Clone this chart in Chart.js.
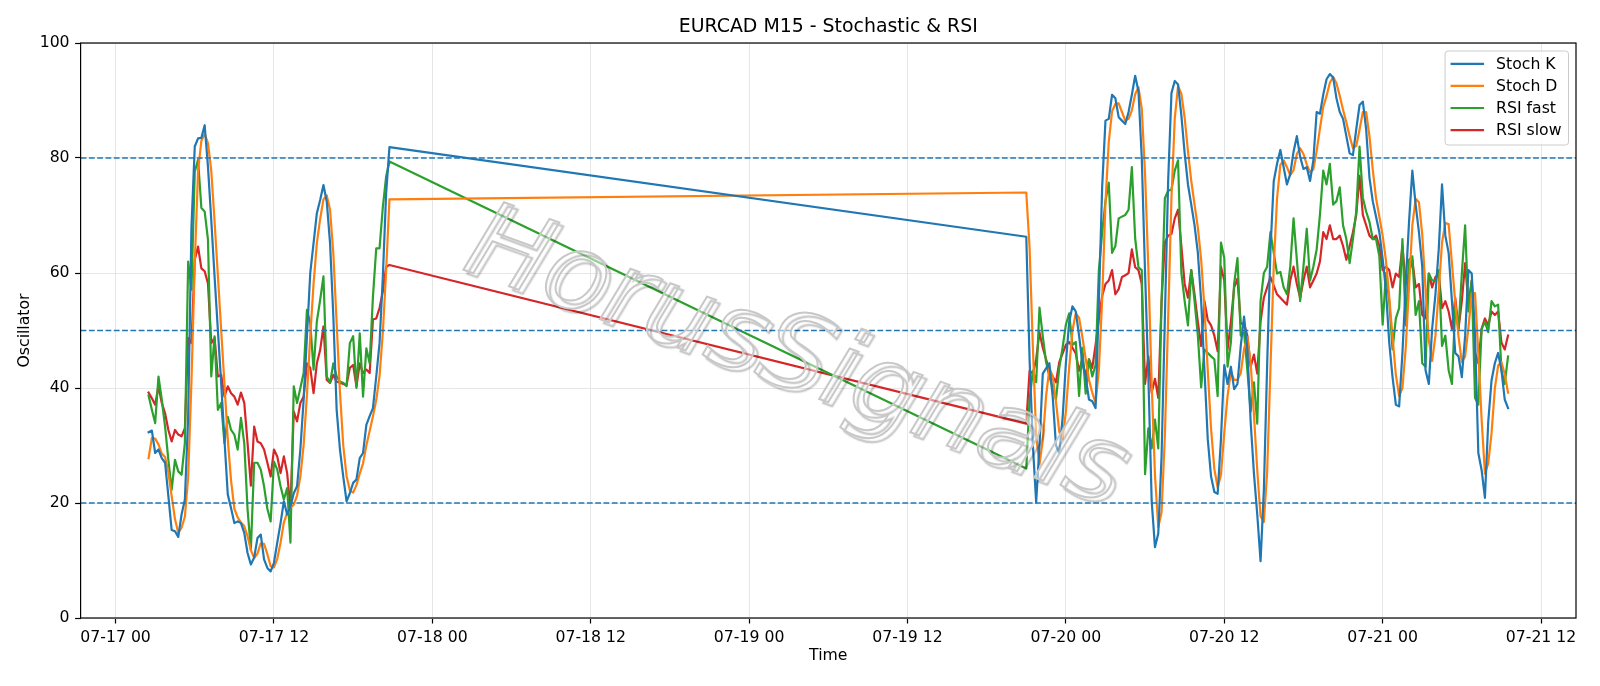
<!DOCTYPE html>
<html>
<head>
<meta charset="utf-8">
<title>EURCAD M15 - Stochastic & RSI</title>
<script src="https://cdn.jsdelivr.net/npm/chart.js"></script>
<style>
  html, body { margin: 0; padding: 0; background: #ffffff; }
  canvas { display: block; }
</style>
</head>
<body>
<canvas id="chart" width="1600" height="686"></canvas>
<script>
// ---------------- DATA ----------------
// Time is expressed in hours since 07-17 00:00; bars are 15 minutes apart.
const session1StartHour = 2.5;   // 07-17 02:30
const session2StartHour = 69;    // 07-19 21:00
const barHours = 0.25;           // M15

const seriesNames  = ['Stoch K', 'Stoch D', 'RSI fast', 'RSI slow'];
const seriesColors = ['#1f77b4', '#ff7f0e', '#2ca02c', '#d62728'];

// Session 1 (07-17 02:30 .. 07-17 20:45)
const stochK1 = [32.3,32.6,28.7,29.3,27.8,27.0,21.2,15.3,15.1,14.1,
  18.0,20.6,35.0,68.0,82.0,83.4,83.5,85.7,78.5,69.2,
  59.4,50.1,40.9,31.0,21.5,19.1,16.5,16.8,16.5,14.8,
  11.3,9.3,10.5,13.9,14.5,10.2,8.7,8.1,9.6,13.1,
  16.5,20.3,18.0,19.4,21.7,22.9,29.3,38.0,49.0,60.0,
  65.2,70.4,72.7,75.3,72.4,65.2,52.4,36.2,29.3,24.6,
  20.3,21.7,23.5,24.1,27.8,28.7,33.6,35.1,36.5,42.0,
  47.8,59.4,73.9,81.9];
const stochD1 = [27.8,31.3,31.2,30.2,28.6,28.0,25.3,21.2,17.2,14.8,
  15.7,17.6,24.5,41.2,61.7,77.8,83.0,84.2,82.6,77.8,
  69.0,59.6,50.1,40.7,31.1,23.9,19.0,17.5,16.6,16.0,
  14.2,11.8,10.4,11.2,13.0,12.9,11.1,9.0,8.8,10.3,
  13.1,16.6,18.3,19.2,19.7,21.3,24.6,30.1,38.8,49.0,
  58.1,65.2,69.4,72.8,73.5,71.0,63.3,51.3,39.3,30.0,
  24.7,22.2,21.8,23.1,25.1,26.9,30.0,32.5,35.1,37.9,
  42.1,49.7,60.4,72.8];
const rsiFast1 = [38.7,36.2,33.9,42.0,38.0,33.3,27.5,22.3,27.5,25.5,
  24.9,30.4,62.0,57.1,77.6,79.7,71.3,70.7,65.8,42.0,
  49.0,36.2,37.4,30.4,35.0,32.7,31.9,29.3,34.8,30.4,
  18.9,11.9,27.0,27.0,25.8,22.9,19.0,16.8,27.2,25.8,
  22.9,20.6,22.6,13.1,40.3,37.4,40.0,42.6,53.6,51.3,
  43.2,51.6,55.3,59.4,42.0,40.9,44.3,42.0,41.1,40.9,
  40.3,47.8,49.0,40.0,49.5,38.5,46.9,44.3,55.9,64.3,
  64.3,71.5,76.8,79.4];
const rsiSlow1 = [39.2,38.2,37.1,40.3,37.4,35.6,32.7,30.7,32.7,31.9,
  31.6,33.0,48.7,47.8,62.3,64.6,60.8,60.3,58.2,47.8,
  48.7,42.0,42.3,38.5,40.3,39.1,38.5,37.1,39.2,37.4,
  30.4,23.0,33.3,30.7,30.4,29.3,27.0,24.6,29.3,28.1,
  25.2,28.1,25.2,19.0,35.9,34.2,37.4,38.5,44.3,43.5,
  39.1,44.3,46.6,50.7,41.4,40.9,42.3,41.1,40.9,40.7,
  40.5,43.5,44.0,40.3,44.3,42.6,43.2,42.6,51.9,52.1,
  53.9,56.8,61.1,61.4];

// Session 2 (07-19 21:00 .. 07-21 09:30)
const stochK2 = [66.3,45.0,30.0,20.1,30.0,42.5,43.4,44.3,38.5,30.0,
  28.7,34.7,44.3,51.5,54.2,53.3,49.1,44.3,41.9,38.0,
  37.7,36.5,55.0,75.0,86.5,86.8,91.0,90.4,87.1,86.5,
  85.9,88.0,91.0,94.3,91.6,80.0,60.0,42.0,20.4,12.3,
  14.7,28.1,52.1,76.0,91.3,93.4,92.8,87.4,80.8,75.4,
  71.9,68.3,63.5,55.1,43.1,31.1,24.6,21.9,21.6,31.1,
  44.0,40.7,43.7,39.8,40.7,47.3,52.4,46.7,34.1,25.1,
  18.0,9.9,22.2,44.0,64.0,76.0,79.0,81.4,78.4,75.4,
  77.2,81.1,83.8,80.2,78.1,78.4,76.0,79.6,88.0,87.7,
  91.0,93.7,94.6,94.0,90.4,88.0,86.8,83.8,80.8,80.5,
  85.0,89.2,89.8,85.0,76.6,72.5,69.8,67.1,62.5,57.0,
  47.9,41.9,37.1,36.8,46.1,58.1,68.9,77.8,71.9,67.1,
  61.1,43.1,40.7,50.3,56.3,64.1,75.4,66.5,63.5,55.1,
  46.1,45.5,41.9,49.1,60.5,59.9,49.1,28.7,25.7,20.9,
  34.1,41.3,44.3,46.1,43.1,38.0,36.5];
const stochD2 = [74.0,64.4,47.1,31.7,26.7,30.9,38.6,43.4,42.1,37.6,
  32.4,31.1,35.9,43.5,50.0,53.0,52.2,48.9,45.1,41.4,
  39.2,37.4,43.1,55.5,72.2,82.8,88.1,89.4,89.5,88.0,
  86.5,86.8,88.3,91.1,92.3,88.6,77.2,60.7,40.8,24.9,
  15.8,18.4,31.6,52.1,73.1,86.9,92.5,91.2,87.0,81.2,
  76.0,71.9,67.9,62.3,53.9,43.1,32.9,25.9,22.7,24.9,
  32.2,38.6,42.8,41.4,41.4,42.6,46.8,48.8,44.4,35.3,
  25.7,17.7,16.7,25.4,43.4,61.3,73.0,78.8,79.6,78.4,
  77.0,77.9,80.7,81.7,80.7,78.9,77.5,78.0,81.2,85.1,
  88.9,90.8,93.1,94.1,93.0,90.8,88.4,86.2,83.8,81.7,
  82.1,84.9,88.0,88.0,83.8,78.0,73.0,69.8,66.5,62.2,
  55.8,48.9,42.3,38.6,40.0,47.0,57.7,68.3,72.9,72.3,
  66.7,57.1,48.3,44.7,49.1,56.9,65.3,68.7,68.5,61.7,
  54.9,48.9,44.5,45.5,50.5,56.5,56.5,45.9,34.5,25.1,
  26.9,32.1,39.9,43.9,44.5,42.4,39.2];
const rsiFast2 = [26.0,38.0,43.0,41.0,54.0,49.0,44.5,42.0,40.0,38.0,
  43.5,47.0,51.0,53.0,47.5,48.0,38.6,47.0,39.0,45.0,
  42.0,44.0,60.5,67.0,72.5,75.7,63.5,64.7,69.5,69.8,
  70.1,71.0,78.4,66.0,61.0,60.5,25.0,33.0,29.5,34.5,
  29.5,55.0,73.0,74.3,74.5,77.8,79.6,60.0,55.1,50.9,
  60.5,55.1,49.1,40.1,46.7,46.1,45.5,45.0,38.6,65.3,
  62.6,43.7,47.9,58.1,62.6,49.1,49.7,43.1,35.9,41.0,
  33.8,55.1,60.0,61.1,67.1,63.5,59.9,60.2,57.5,56.3,
  61.1,69.5,62.3,55.1,61.1,67.7,58.7,61.1,64.1,70.1,
  77.8,75.4,79.0,71.9,72.5,74.9,68.3,65.9,61.7,65.9,
  70.7,82.0,73.1,70.7,68.9,65.9,65.9,62.9,51.0,60.0,
  55.1,46.7,52.1,53.9,65.9,50.9,62.3,62.9,52.7,55.1,
  44.3,43.7,59.9,58.7,58.7,60.5,47.3,49.1,43.1,40.7,
  53.9,50.3,59.9,68.3,53.3,58.7,38.3,37.1,50.3,51.5,
  49.7,55.1,54.2,54.5,43.1,40.7,45.5];
const rsiSlow2 = [33.8,43.0,42.5,45.0,49.7,47.0,45.0,43.0,42.0,41.0,
  44.5,46.0,47.5,48.0,47.0,46.0,43.0,45.0,42.0,45.0,
  43.5,47.5,52.0,56.0,58.1,58.7,60.5,56.3,57.2,59.3,
  59.6,60.0,64.1,61.0,60.5,58.1,40.7,45.5,39.2,41.6,
  38.3,55.1,65.3,66.5,66.8,69.5,71.0,64.7,58.1,55.7,
  60.5,56.3,51.5,47.3,55.1,51.8,50.9,49.1,46.4,61.1,
  58.7,46.7,51.5,57.5,59.0,51.2,51.2,49.1,43.7,45.8,
  42.5,51.5,55.7,57.5,59.3,57.8,56.3,55.7,55.1,54.5,
  58.7,61.1,58.1,55.7,58.7,61.1,57.5,58.7,59.9,62.0,
  67.1,65.9,68.3,65.9,65.9,66.5,64.7,62.3,64.7,67.1,
  70.1,76.9,70.1,68.3,66.5,65.9,66.5,64.7,60.5,61.1,
  60.5,57.5,59.9,59.3,64.7,58.1,59.9,62.3,57.5,58.1,
  52.7,52.1,59.9,57.5,59.3,59.9,53.9,55.1,53.3,50.3,
  55.7,50.3,55.1,61.7,54.5,58.7,46.1,44.3,50.3,52.1,
  50.9,53.3,52.7,53.3,47.9,46.7,49.1];

const tickHours  = [0, 12, 24, 36, 48, 60, 72, 84, 96, 108];
const tickLabels = ['07-17 00','07-17 12','07-18 00','07-18 12','07-19 00',
                    '07-19 12','07-20 00','07-20 12','07-21 00','07-21 12'];
const yTicks = [0, 20, 40, 60, 80, 100];
const refLevels = [80, 50, 20];

const chartTitle = 'EURCAD M15 - Stochastic & RSI';
const xTitle = 'Time';
const yTitle = 'Oscillator';
const watermarkText = 'HorusSignals';

// ---------------- BUILD ----------------
function toPoints(a1, a2) {
  const pts = [];
  a1.forEach((v, i) => pts.push({ x: session1StartHour + i * barHours, y: v }));
  a2.forEach((v, i) => pts.push({ x: session2StartHour + i * barHours, y: v }));
  return pts;
}
const seriesData = [
  toPoints(stochK1, stochK2),
  toPoints(stochD1, stochD2),
  toPoints(rsiFast1, rsiFast2),
  toPoints(rsiSlow1, rsiSlow2)
];

const firstX = session1StartHour;
const lastX = session2StartHour + (stochK2.length - 1) * barHours;
const spanX = lastX - firstX;
const xMin = firstX - 0.05 * spanX;
const xMax = lastX + 0.05 * spanX;

const FONT = "'DejaVu Sans', 'Liberation Sans', sans-serif";
const TICK_SIZE = 15.7;
const TITLE_SIZE = 18.9;

Chart.defaults.color = '#000000';
Chart.defaults.font.family = FONT;

const decor = {
  id: 'decor',
  afterDatasetsDraw(chart) {
    const { ctx, chartArea: a, scales: { y } } = chart;
    ctx.save();
    // horizontal dashed reference levels
    ctx.strokeStyle = '#1f77b4';
    ctx.lineWidth = 1.5;
    ctx.setLineDash([5.8, 2.5]);
    refLevels.forEach(v => {
      const py = y.getPixelForValue(v);
      ctx.beginPath();
      ctx.moveTo(a.left, py);
      ctx.lineTo(a.right, py);
      ctx.stroke();
    });
    ctx.setLineDash([]);

    // watermark
    ctx.save();
    ctx.translate(chart.width / 2 - 5, chart.height / 2 + 18);
    ctx.rotate(20 * Math.PI / 180);
    ctx.font = "italic 106px " + FONT;
    ctx.textAlign = 'center';
    ctx.textBaseline = 'middle';
    ctx.fillStyle = 'rgba(255,255,255,0.5)';
    ctx.fillText(watermarkText, 0, 0);
    ctx.shadowColor = 'rgba(0,0,0,0.26)';
    ctx.shadowOffsetX = 4;
    ctx.shadowOffsetY = 4;
    ctx.shadowBlur = 1.5;
    ctx.lineWidth = 2;
    ctx.strokeStyle = 'rgba(200,200,200,1)';
    ctx.strokeText(watermarkText, 0, 0);
    ctx.restore();

    // spines
    ctx.strokeStyle = '#000000';
    ctx.lineWidth = 1.2;
    ctx.strokeRect(a.left, a.top, a.right - a.left, a.bottom - a.top);

    // legend (upper right)
    ctx.font = TICK_SIZE + 'px ' + FONT;
    const ds = chart.data.datasets;
    let maxW = 0;
    ds.forEach(d => { maxW = Math.max(maxW, ctx.measureText(d.label).width); });
    const boxW = 51 + maxW + 7;
    const boxH = 94;
    const bx = a.right - 7.5 - boxW;
    const by = a.top + 8;
    ctx.beginPath();
    if (ctx.roundRect) ctx.roundRect(bx, by, boxW, boxH, 3); else ctx.rect(bx, by, boxW, boxH);
    ctx.fillStyle = 'rgba(255,255,255,0.8)';
    ctx.fill();
    ctx.strokeStyle = '#cccccc';
    ctx.lineWidth = 1;
    ctx.stroke();
    ctx.textAlign = 'left';
    ctx.textBaseline = 'middle';
    ds.forEach((d, k) => {
      const cy = by + 12.8 + k * 22.1;
      ctx.strokeStyle = d.borderColor;
      ctx.lineWidth = 2.2;
      ctx.beginPath();
      ctx.moveTo(bx + 5.5, cy);
      ctx.lineTo(bx + 39, cy);
      ctx.stroke();
      ctx.fillStyle = '#000000';
      ctx.fillText(d.label, bx + 51, cy + 1);
    });
    ctx.restore();
  },
  afterDraw(chart) {
    const { ctx, chartArea: a } = chart;
    ctx.save();
    ctx.font = TITLE_SIZE + 'px ' + FONT;
    ctx.fillStyle = '#000000';
    ctx.textAlign = 'center';
    ctx.textBaseline = 'alphabetic';
    ctx.fillText(chartTitle, (a.left + a.right) / 2, a.top - 10.8);
    ctx.restore();
  }
};

new Chart(document.getElementById('chart'), {
  type: 'line',
  data: {
    datasets: seriesNames.map((name, k) => ({
      label: name,
      data: seriesData[k],
      borderColor: seriesColors[k],
      backgroundColor: seriesColors[k],
      borderWidth: 2.2,
      pointRadius: 0,
      pointHoverRadius: 0,
      tension: 0,
      fill: false,
      borderJoinStyle: 'round',
      borderCapStyle: 'square'
    }))
  },
  options: {
    responsive: false,
    animation: false,
    devicePixelRatio: 1,
    layout: { padding: { left: 0, right: 24, top: 43, bottom: 0 } },
    plugins: {
      legend: { display: false },
      tooltip: { enabled: false },
      title: { display: false }
    },
    scales: {
      x: {
        type: 'linear',
        min: xMin,
        max: xMax,
        afterBuildTicks: (scale) => { scale.ticks = tickHours.map(v => ({ value: v })); },
        afterFit: (scale) => { scale.height = 68; },
        ticks: {
          autoSkip: false,
          maxRotation: 0,
          padding: 5.5,
          font: { size: TICK_SIZE, family: FONT },
          color: '#000000',
          callback: (value) => {
            const i = tickHours.indexOf(value);
            return i >= 0 ? tickLabels[i] : '';
          }
        },
        grid: {
          color: '#e6e6e6',
          lineWidth: 1,
          tickColor: '#000000',
          tickLength: 5.5,
          tickWidth: 1.2,
          drawTicks: true
        },
        border: { display: false },
        title: {
          display: true,
          text: xTitle,
          color: '#000000',
          font: { size: TICK_SIZE, family: FONT },
          padding: { top: 0, bottom: 20.6 }
        }
      },
      y: {
        type: 'linear',
        min: 0,
        max: 100,
        afterBuildTicks: (scale) => { scale.ticks = yTicks.map(v => ({ value: v })); },
        afterFit: (scale) => { scale.width = 80.6; },
        ticks: {
          padding: 5.5,
          font: { size: TICK_SIZE, family: FONT },
          color: '#000000'
        },
        grid: {
          color: '#e6e6e6',
          lineWidth: 1,
          tickColor: '#000000',
          tickLength: 5.5,
          tickWidth: 1.2,
          drawTicks: true
        },
        border: { display: false },
        title: {
          display: true,
          text: yTitle,
          color: '#000000',
          font: { size: TICK_SIZE, family: FONT },
          padding: { top: 16, bottom: 0 }
        }
      }
    }
  },
  plugins: [decor]
});
</script>
</body>
</html>
